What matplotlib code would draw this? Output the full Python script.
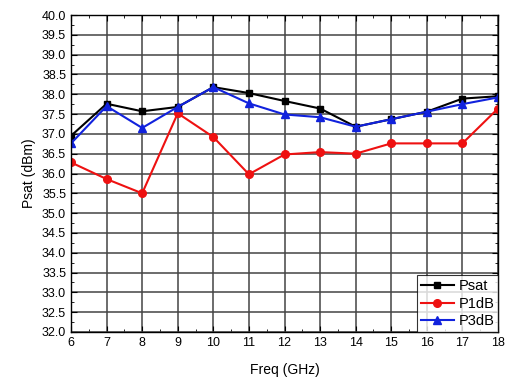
import matplotlib
matplotlib.use("Agg")
import matplotlib.pyplot as plt
from matplotlib.ticker import MultipleLocator

plt.rcParams['font.family'] = ['Liberation Sans', 'DejaVu Sans']

freq = [6, 7, 8, 9, 10, 11, 12, 13, 14, 15, 16, 17, 18]
psat = [36.95, 37.76, 37.57, 37.68, 38.18, 38.03, 37.83, 37.64, 37.18, 37.37, 37.56, 37.89, 37.95]
p1db = [36.28, 35.86, 35.50, 37.52, 36.92, 35.98, 36.48, 36.54, 36.50, 36.76, 36.76, 36.76, 37.64]
p3db = [36.76, 37.70, 37.15, 37.68, 38.18, 37.77, 37.49, 37.42, 37.18, 37.37, 37.56, 37.75, 37.92]

fig = plt.figure(figsize=(5.07, 3.83), dpi=100)
ax = fig.add_axes([71/507, 1-332/383, (498-71)/507, (332-15)/383])

ax.plot(freq, psat, color='black', marker='s', markersize=5, linewidth=1.5, label='Psat')
ax.plot(freq, p1db, color='#ee1111', marker='o', markersize=5.5, linewidth=1.5, label='P1dB')
ax.plot(freq, p3db, color='#1122dd', marker='^', markersize=6, linewidth=1.5, label='P3dB')

ax.set_xlim(6, 18)
ax.set_ylim(32, 40)
ax.xaxis.set_major_locator(MultipleLocator(1))
ax.xaxis.set_minor_locator(MultipleLocator(0.5))
ax.yaxis.set_major_locator(MultipleLocator(0.5))
ax.yaxis.set_minor_locator(MultipleLocator(0.25))
ax.yaxis.set_major_formatter(matplotlib.ticker.FormatStrFormatter('%.1f'))
ax.grid(True, which='major', color='#444444', linewidth=1.1)
ax.set_axisbelow(True)
ax.tick_params(which='both', direction='in', top=True, right=True, labelsize=9, colors='black')
ax.tick_params(which='major', length=4)
ax.tick_params(which='minor', length=2)
for s in ax.spines.values():
    s.set_linewidth(1.0)

ax.set_xlabel('Freq (GHz)', fontsize=10, labelpad=10)
ax.set_ylabel('Psat (dBm)', fontsize=10, labelpad=4)

leg = ax.legend(loc='lower right', fontsize=10.5, frameon=True, fancybox=False,
                edgecolor='black', borderaxespad=0, handlelength=2.3,
                handletextpad=0.3, borderpad=0.25, labelspacing=0.25)
leg.get_frame().set_linewidth(0.8)

fig.savefig('out.png', dpi=100)
